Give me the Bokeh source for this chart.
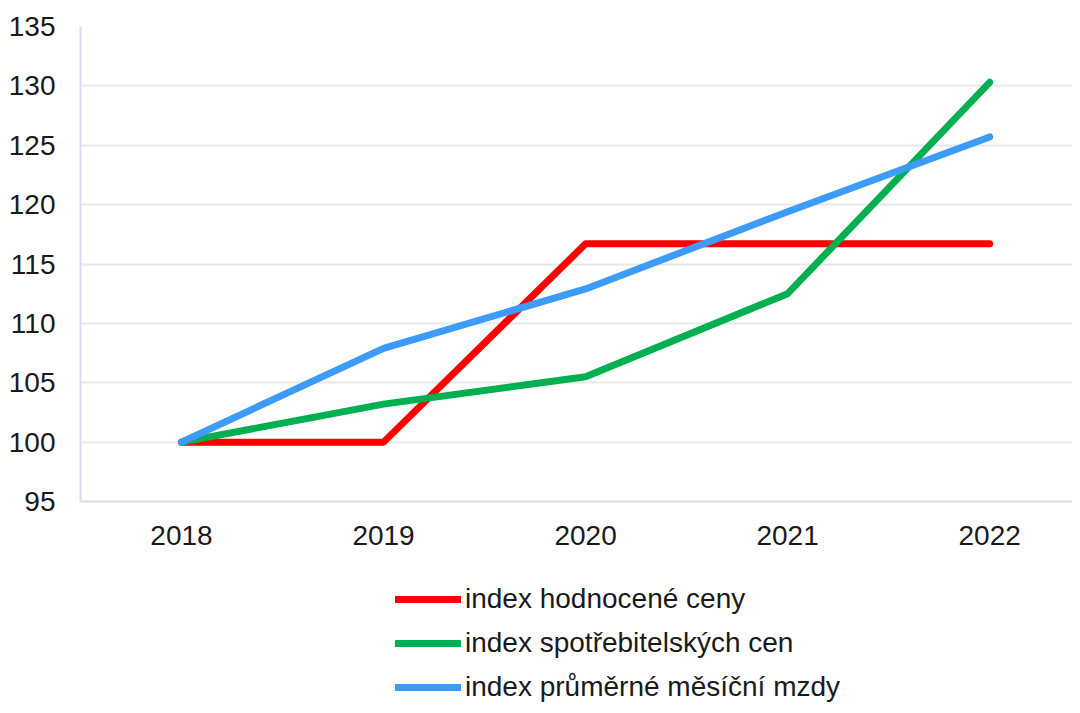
from bokeh.plotting import figure
from bokeh.layouts import column
from bokeh.models import Legend, LegendItem, FixedTicker, Range1d
from bokeh.embed import file_html
from bokeh.resources import INLINE

years = [2018, 2019, 2020, 2021, 2022]
year_labels = ["2018", "2019", "2020", "2021", "2022"]
hodnocene = [100, 100, 116.7, 116.7, 116.7]
spotrebitelske = [100, 103.2, 105.5, 112.5, 130.3]
mzdy = [100, 107.9, 112.9, 119.4, 125.7]
y_ticks = [95, 100, 105, 110, 115, 120, 125, 130, 135]

series = [
    ("index hodnocené ceny", hodnocene, "#ff0000"),
    ("index spotřebitelských cen", spotrebitelske, "#00b050"),
    ("index průměrné měsíční mzdy", mzdy, "#3d9bfc"),
]

FONT = "Liberation Sans"
FS = "28px"

p = figure(width=1072, height=552, output_backend="svg", toolbar_location=None,
           x_range=Range1d(2017.5, 2022.41), y_range=Range1d(95, 135),
           min_border_left=80, min_border_top=26, min_border_bottom=51, min_border_right=0)
p.outline_line_color = None
p.xgrid.grid_line_color = None
p.ygrid.grid_line_color = "#e8e8e8"
p.ygrid.grid_line_width = 2

for ax in (p.xaxis, p.yaxis):
    ax.axis_line_color = "#dcd8ee"
    ax.axis_line_width = 2
    ax.major_tick_line_color = None
    ax.minor_tick_line_color = None
    ax.major_label_text_font = FONT
    ax.major_label_text_font_size = FS
    ax.major_label_text_color = "#1a1a1a"

p.yaxis.ticker = FixedTicker(ticks=y_ticks)
p.yaxis.major_label_standoff = 19
p.xaxis.ticker = FixedTicker(ticks=years)
p.xaxis.major_label_overrides = {y: l for y, l in zip(years, year_labels)}
p.xaxis.major_label_standoff = 18

for name, vals, color in series:
    p.line(years, vals, line_color=color, line_width=7, line_cap="round", line_join="round")

# legend panel below the chart (its series lie outside its view range)
pl = figure(width=1072, height=153, output_backend="svg", toolbar_location=None,
            x_range=Range1d(0, 1), y_range=Range1d(0, 1), min_border=0)
pl.outline_line_color = None
pl.axis.visible = False
pl.grid.visible = False
items = []
for name, vals, color in series:
    r = pl.line(years, vals, line_color=color, line_width=7, line_cap="round")
    items.append(LegendItem(label=name, renderers=[r]))

legend = Legend(items=items, location=(315, 2), orientation="vertical",
                label_text_font=FONT, label_text_font_size=FS, label_text_color="#1a1a1a",
                glyph_width=66, glyph_height=32, label_height=32, label_standoff=4,
                spacing=12, padding=0, margin=0,
                border_line_color=None, background_fill_alpha=0)
pl.add_layout(legend, "center")

layout = column(p, pl, spacing=0)
open("out.html", "w").write(file_html(layout, INLINE))
